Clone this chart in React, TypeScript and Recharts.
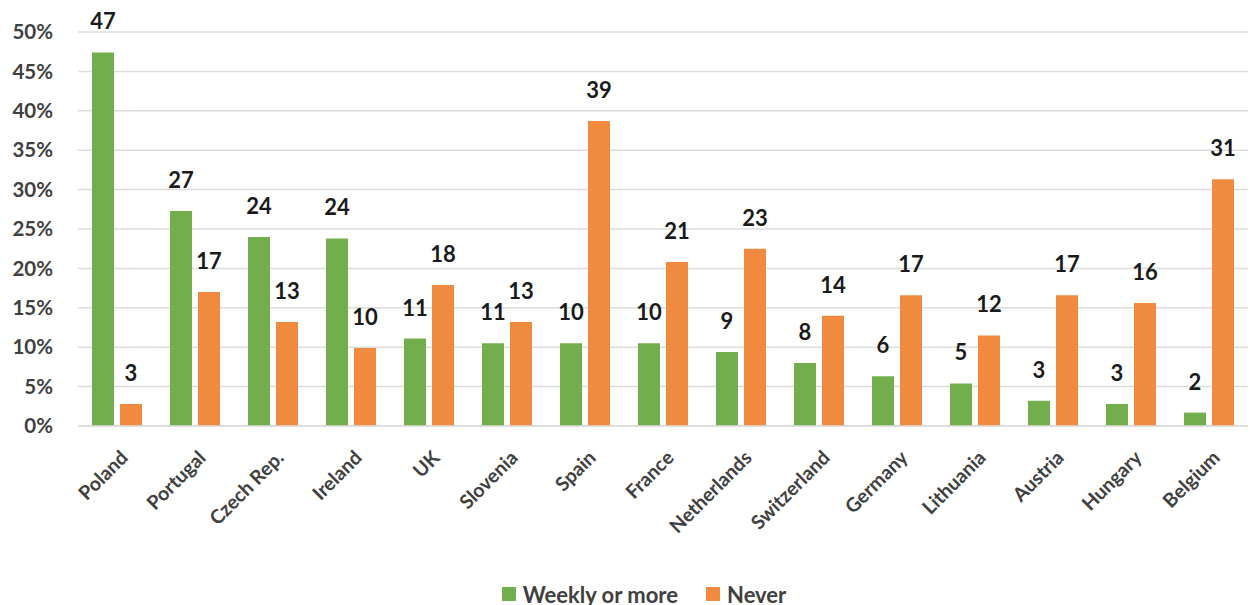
import React from 'react';
import { BarChart, Bar, XAxis, YAxis, CartesianGrid, Legend, LabelList } from 'recharts';

const countries = ['Poland', 'Portugal', 'Czech Rep.', 'Ireland', 'UK', 'Slovenia', 'Spain', 'France', 'Netherlands', 'Switzerland', 'Germany', 'Lithuania', 'Austria', 'Hungary', 'Belgium'];
const weeklyValues = [47.4, 27.3, 24.0, 23.8, 11.1, 10.5, 10.5, 10.5, 9.4, 8.0, 6.3, 5.4, 3.2, 2.8, 1.7];
const neverValues = [2.8, 17.0, 13.2, 9.9, 17.9, 13.2, 38.7, 20.8, 22.5, 14.0, 16.6, 11.5, 16.6, 15.6, 31.3];
const weeklyLabels = ['47', '27', '24', '24', '11', '11', '10', '10', '9', '8', '6', '5', '3', '3', '2'];
const neverLabels = ['3', '17', '13', '10', '18', '13', '39', '21', '23', '14', '17', '12', '17', '16', '31'];
const yTicks = [0, 5, 10, 15, 20, 25, 30, 35, 40, 45, 50];

const GREEN = '#72AF4C';
const ORANGE = '#F08A3E';
const FONT = 'Lato, "Open Sans", sans-serif';

const data = countries.map((c, i) => ({
  country: c,
  weekly: weeklyValues[i],
  never: neverValues[i],
  weeklyLabel: weeklyLabels[i],
  neverLabel: neverLabels[i],
}));

const makeLabel = (labels: string[]) => (props: any) => {
  const { x, y, width, index } = props;
  return (
    <text
      x={x + width / 2}
      y={y - 23}
      textAnchor="middle"
      fontFamily={FONT}
      fontWeight={700}
      fontSize={22}
      fill="#1a1a1a"
    >
      {labels[index]}
    </text>
  );
};

const XTick = (props: any) => {
  const { x, y, payload } = props;
  const ax = x + 12;
  const ay = y + 31;
  return (
    <text
      x={ax}
      y={ay}
      textAnchor="end"
      transform={`rotate(-45, ${ax}, ${ay})`}
      fontFamily={FONT}
      fontWeight={700}
      fontSize={19.5}
      fill="#404040"
    >
      {payload.value}
    </text>
  );
};

const LegendContent = () => (
  <div
    style={{
      height: 30,
      display: 'flex',
      justifyContent: 'center',
      alignItems: 'center',
      paddingLeft: 38,
      fontFamily: FONT,
      fontWeight: 700,
      fontSize: 22,
      color: '#404040',
    }}
  >
    <span style={{ width: 14, height: 14, background: GREEN, display: 'inline-block', marginRight: 7 }} />
    <span style={{ marginRight: 28 }}>Weekly or more</span>
    <span style={{ width: 14, height: 14, background: ORANGE, display: 'inline-block', marginRight: 7 }} />
    <span>Never</span>
  </div>
);

export default function App() {
  return (
    <div style={{ position: 'absolute', left: 0, top: 0, width: 1250, height: 605, background: '#fff' }}>
      <BarChart
        width={1250}
        height={605}
        data={data}
        margin={{ top: 32, right: 2, left: 0, bottom: 0 }}
        barCategoryGap={14}
        barGap={6}
      >
        <CartesianGrid vertical={false} stroke="#dcdcdc" strokeWidth={1.5} />
        <XAxis
          dataKey="country"
          interval={0}
          height={149}
          tick={<XTick />}
          tickLine={false}
          tickSize={0}
          axisLine={{ stroke: '#dcdcdc', strokeWidth: 1.5 }}
        />
        <YAxis
          domain={[0, 50]}
          ticks={yTicks}
          tickFormatter={(v: number) => `${v}%`}
          width={78}
          tickLine={false}
          tickSize={0}
          tickMargin={25}
          axisLine={false}
          tick={{ fontFamily: FONT, fontWeight: 700, fontSize: 20.5, fill: '#404040' }}
        />
        <Legend verticalAlign="bottom" content={<LegendContent />} wrapperStyle={{ left: 0, width: 1250, top: 579 }} />
        <Bar dataKey="weekly" name="Weekly or more" fill={GREEN} isAnimationActive={false}>
          <LabelList dataKey="weeklyLabel" content={makeLabel(weeklyLabels)} />
        </Bar>
        <Bar dataKey="never" name="Never" fill={ORANGE} isAnimationActive={false}>
          <LabelList dataKey="neverLabel" content={makeLabel(neverLabels)} />
        </Bar>
      </BarChart>
    </div>
  );
}
